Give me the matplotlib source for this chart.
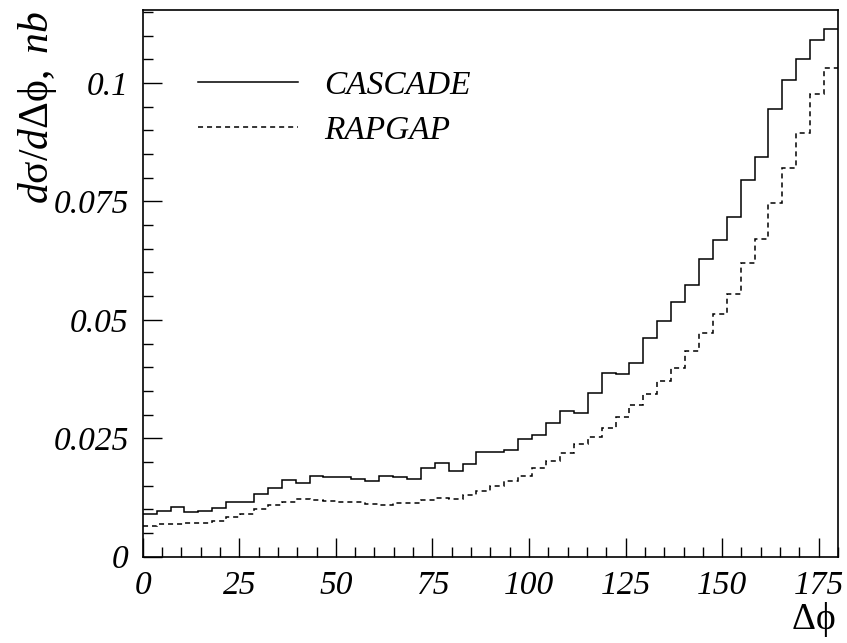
import numpy as np
import matplotlib
matplotlib.use('Agg')
import matplotlib.pyplot as plt
from matplotlib.ticker import MultipleLocator, FuncFormatter

# 50 bins of 3.6 deg from 0 to 180
edges = np.linspace(0, 180, 51)

cascade = [0.0090, 0.0096, 0.0104, 0.0094, 0.0096, 0.0102, 0.0115, 0.0115, 0.0132, 0.0144,
           0.0161, 0.0155, 0.0170, 0.0169, 0.0168, 0.0165, 0.0159, 0.0171, 0.0169, 0.0164,
           0.0187, 0.0197, 0.0181, 0.0196, 0.0221, 0.0221, 0.0225, 0.0248, 0.0256, 0.0283,
           0.0308, 0.0304, 0.0345, 0.0388, 0.0386, 0.0408, 0.0462, 0.0498, 0.0537, 0.0574,
           0.0628, 0.0668, 0.0718, 0.0795, 0.0844, 0.0946, 0.1007, 0.1050, 0.1090, 0.1114]

rapgap = [0.0065, 0.0068, 0.0068, 0.0072, 0.0072, 0.0076, 0.0083, 0.0090, 0.0101, 0.0109,
          0.0116, 0.0121, 0.0119, 0.0118, 0.0116, 0.0116, 0.0112, 0.0110, 0.0113, 0.0114,
          0.0119, 0.0123, 0.0122, 0.0131, 0.0139, 0.0149, 0.0159, 0.0171, 0.0187, 0.0202,
          0.0218, 0.0237, 0.0252, 0.0272, 0.0295, 0.0320, 0.0344, 0.0371, 0.0399, 0.0435,
          0.0473, 0.0512, 0.0555, 0.0619, 0.0670, 0.0746, 0.0821, 0.0895, 0.0976, 0.1032]

labels = ['CASCADE', 'RAPGAP']

plt.rcParams['font.family'] = ['Liberation Serif', 'DejaVu Serif']
plt.rcParams['mathtext.fontset'] = 'custom'
plt.rcParams['mathtext.rm'] = 'Liberation Serif'
plt.rcParams['mathtext.it'] = 'Liberation Serif:italic'
plt.rcParams['mathtext.fallback'] = 'stix'

fig = plt.figure(figsize=(8.47, 6.43), dpi=100)
ax = fig.add_axes([0.1685, 0.1342, 0.8209, 0.8502])

ax.stairs(cascade, edges, baseline=None, color='black', lw=1.1, label=labels[0])
ax.stairs(rapgap, edges, baseline=None, color='black', lw=1.1,
          linestyle=(0, (3.3, 2.6)), label=labels[1])

ax.set_xlim(0, 180)
ax.set_ylim(0, 0.1154)

ax.xaxis.set_major_locator(MultipleLocator(25))
ax.xaxis.set_minor_locator(MultipleLocator(5))
ax.yaxis.set_major_locator(MultipleLocator(0.025))
ax.yaxis.set_minor_locator(MultipleLocator(0.005))
ax.yaxis.set_major_formatter(FuncFormatter(lambda v, p: '0' if v == 0 else ('%g' % round(v, 4))))

ax.tick_params(which='both', direction='in', top=False, right=False, width=1.0)
ax.tick_params(which='major', length=14, pad=10, labelsize=24)
ax.tick_params(which='minor', length=7)
for lab in ax.get_xticklabels() + ax.get_yticklabels():
    lab.set_style('italic')
for sp in ax.spines.values():
    sp.set_linewidth(1.2)

leg = ax.legend(loc='upper left', bbox_to_anchor=(0.037, 0.945), frameon=False,
                handlelength=3.0, handletextpad=0.78, labelspacing=0.45,
                prop={'size': 24, 'style': 'italic'})

fig.text(0.044, 0.983, r'$d\mathrm{\sigma}/d\mathrm{\Delta\phi}$$,\ nb$', rotation=90,
         ha='center', va='top', fontsize=30)
fig.text(0.986, 0.006, r'$\mathrm{\Delta\phi}$', ha='right', va='bottom', fontsize=27)

fig.savefig('out.png', dpi=100)
